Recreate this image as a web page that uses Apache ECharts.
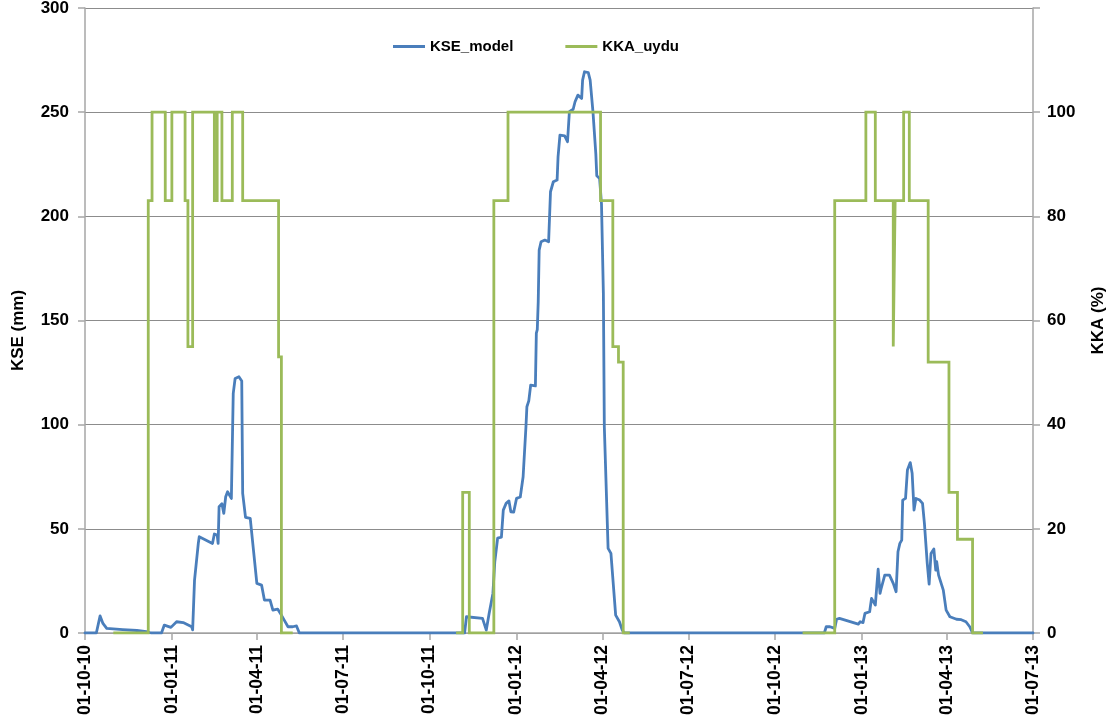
<!DOCTYPE html>
<html>
<head>
<meta charset="utf-8">
<script src="https://cdn.jsdelivr.net/npm/echarts@6/dist/echarts.min.js"></script>
<style>
html,body{margin:0;padding:0;background:#fff;}
#chart{width:1112px;height:719px;}
</style>
</head>
<body>
<div id="chart"></div>
<script>
// ---- Data ----
const xTickDates = ['2010-10-01','2011-01-01','2011-04-01','2011-07-01','2011-10-01','2012-01-01','2012-04-01','2012-07-01','2012-10-01','2013-01-01','2013-04-01','2013-07-01'];
const leftTicks = [0,50,100,150,200,250,300];
const rightTicks = [0,20,40,60,80,100];

const kseDates = [
'2010-10-01','2010-10-13','2010-10-17','2010-10-20','2010-10-24','2010-11-10','2010-11-25','2010-12-05','2010-12-10','2010-12-21','2010-12-24','2010-12-31',
'2011-01-06','2011-01-13','2011-01-22','2011-01-23','2011-01-25','2011-01-27','2011-01-29','2011-01-30','2011-02-13','2011-02-15','2011-02-18','2011-02-19','2011-02-20','2011-02-23','2011-02-25','2011-02-27',
'2011-03-01','2011-03-05','2011-03-07','2011-03-09','2011-03-13','2011-03-16','2011-03-17','2011-03-20','2011-03-25','2011-04-01','2011-04-06','2011-04-09','2011-04-15','2011-04-18','2011-04-23','2011-04-27','2011-04-30','2011-05-04','2011-05-09','2011-05-13','2011-05-16',
'2011-11-07','2011-11-09','2011-11-11','2011-11-26','2011-11-28','2011-11-30','2011-12-02','2011-12-03','2011-12-05','2011-12-07','2011-12-09','2011-12-11','2011-12-12','2011-12-16','2011-12-18','2011-12-21','2011-12-24','2011-12-26','2011-12-29',
'2012-01-01','2012-01-05','2012-01-08','2012-01-11','2012-01-12','2012-01-14','2012-01-16','2012-01-21','2012-01-22','2012-01-23','2012-01-24','2012-01-25','2012-01-27','2012-01-31','2012-02-04','2012-02-06','2012-02-09','2012-02-13','2012-02-14','2012-02-16','2012-02-21','2012-02-24','2012-02-26',
'2012-03-01','2012-03-03','2012-03-06','2012-03-10','2012-03-11','2012-03-13','2012-03-17','2012-03-19','2012-03-22','2012-03-25','2012-03-26','2012-03-29','2012-03-31','2012-04-02','2012-04-03','2012-04-07','2012-04-10','2012-04-15','2012-04-19','2012-04-22','2012-04-24',
'2012-11-22','2012-11-24','2012-11-28','2012-11-29','2012-12-03','2012-12-05','2012-12-08','2012-12-28','2012-12-30',
'2013-01-02','2013-01-04','2013-01-05','2013-01-09','2013-01-11','2013-01-13','2013-01-15','2013-01-18','2013-01-20','2013-01-21','2013-01-25','2013-01-30','2013-02-03','2013-02-06','2013-02-08','2013-02-10','2013-02-12','2013-02-13','2013-02-16','2013-02-18','2013-02-21','2013-02-23','2013-02-25','2013-02-27',
'2013-03-03','2013-03-06','2013-03-08','2013-03-11','2013-03-13','2013-03-15','2013-03-18','2013-03-20','2013-03-21','2013-03-23','2013-03-25','2013-03-28','2013-03-31','2013-04-04','2013-04-11','2013-04-16','2013-04-21','2013-04-25','2013-04-28','2013-07-01'
];
const kseValues = [
0,0,8.2,4.6,2.2,1.6,1.2,0.7,0,0,3.8,2.7,
5.4,5,3,1.5,25.4,26,43,46.2,43,47.5,47,43,60.6,62,57.4,65.4,
67.8,64.6,115,122.2,123,121,67,55.5,55,23.8,23,15.8,15.8,11,11.5,8.6,6.2,3,3,3.4,0,
0,7.8,8.6,7,6.8,1.4,0.5,9.4,14.2,19,34.2,35,45.5,46,59,62.2,63.4,58.2,58,
64.6,65.3,75,99,108.6,111.4,119,118.6,143.9,145.6,159,183.8,187.8,188.6,187.8,211.8,216.6,217.4,228.6,239,238.6,235.8,250.2,
251.4,255,258.2,256.6,265.4,269.4,269,265.4,250,230,219.5,218.2,206,163,99,40.6,38.2,8.6,5.4,1.4,0,
0,3,3,2.2,2.2,6.6,7,4.3,5.4,
5,9.4,10.2,10.2,16.6,17.4,13.4,30.6,19,21,27.8,27.8,23.8,19.8,39,43,44.6,63.8,64.6,78.2,81.8,76.7,59,64.6,
63.8,62.2,52.6,33.4,23.5,38.2,40.3,30.2,34.2,27.8,28,20.6,11,7.8,6.6,6.4,5.4,3,0,0
];

// each value holds from its date until the next date; null ends a season
const kkaDates = [
'2010-10-31','2010-12-07','2010-12-11','2010-12-25','2011-01-01','2011-01-15','2011-01-18','2011-01-23','2011-02-15','2011-02-18','2011-02-23','2011-03-06','2011-03-17','2011-04-24','2011-04-27','2011-05-09',
'2011-10-29','2011-11-05','2011-11-12','2011-12-08','2011-12-23','2012-03-30','2012-04-12','2012-04-18','2012-04-23','2012-04-30',
'2012-10-30','2012-12-03','2013-01-05','2013-01-15','2013-02-03','2013-02-05','2013-02-14','2013-02-20','2013-03-12','2013-04-03','2013-04-12','2013-04-28','2013-05-09'
];
const kkaValues = [
0,83,100,83,100,83,55,100,83,100,83,100,83,53,0,null,
0,27,0,83,100,83,55,52,0,null,
0,83,100,83,55,83,100,83,52,27,18,0,null
];

// ---- helpers ----
function ts(s){ const p=s.split('-').map(Number); return Date.UTC(p[0],p[1]-1,p[2]); }
function pad(n){ return (n<10?'0':'')+n; }
function fmt(v){ const d=new Date(v); return pad(d.getUTCDate())+'-'+pad(d.getUTCMonth()+1)+'-'+pad(d.getUTCFullYear()%100); }

const kseData = kseDates.map((d,i)=>[ts(d), kseValues[i]]);
const kkaData = kkaDates.map((d,i)=>[ts(d), kkaValues[i]]);
const xTicks = xTickDates.map(ts);

const FONT = 'Liberation Sans';
const chart = echarts.init(document.getElementById('chart'), null, {renderer:'canvas'});
chart.setOption({
  animation:false,
  backgroundColor:'#ffffff',
  textStyle:{fontFamily:FONT},
  grid:{left:85,right:79,top:8,bottom:86,containLabel:false,outerBoundsMode:'none'},
  legend:{
    left:393, top:39, padding:0,
    icon:'rect', itemWidth:32, itemHeight:3, itemGap:52,
    textStyle:{fontFamily:FONT,fontWeight:'bold',fontSize:15,color:'#000'},
    data:['KSE_model','KKA_uydu']
  },
  xAxis:{
    type:'value',
    min:xTicks[0], max:xTicks[xTicks.length-1],
    axisLine:{show:true,onZero:false,lineStyle:{color:'#a6a6a6',width:1.5}},
    axisTick:{show:true,length:7,inside:false,customValues:xTicks,lineStyle:{color:'#a6a6a6',width:1.5}},
    axisLabel:{show:true,rotate:90,margin:12,customValues:xTicks,formatter:fmt,
      fontFamily:FONT,fontWeight:'bold',fontSize:17.5,color:'#000'},
    splitLine:{show:false}
  },
  yAxis:[
    {
      type:'value', min:0, max:300, interval:50, position:'left',
      name:'KSE (mm)', nameLocation:'middle', nameRotate:90, nameGap:58,
      nameTextStyle:{fontFamily:FONT,fontWeight:'bold',fontSize:17,color:'#000',padding:[0,20,0,0]},
      axisLine:{show:true,lineStyle:{color:'#a6a6a6',width:1.5}},
      axisTick:{show:true,length:7,lineStyle:{color:'#a6a6a6',width:1.5}},
      axisLabel:{margin:16,fontFamily:FONT,fontWeight:'bold',fontSize:17,color:'#000'},
      splitLine:{show:true,lineStyle:{color:'#8c8c8c',width:1}}
    },
    {
      type:'value', min:0, max:120, interval:20, position:'right',
      name:'KKA (%)', nameLocation:'middle', nameRotate:90, nameGap:57,
      nameTextStyle:{fontFamily:FONT,fontWeight:'bold',fontSize:17,color:'#000'},
      axisLine:{show:true,lineStyle:{color:'#a6a6a6',width:1.5}},
      axisTick:{show:true,length:7,lineStyle:{color:'#a6a6a6',width:1.5}},
      axisLabel:{margin:14,fontFamily:FONT,fontWeight:'bold',fontSize:17,color:'#000',
        formatter:function(v){ return v===120 ? '' : String(v); }},
      splitLine:{show:false}
    }
  ],
  series:[
    {
      name:'KSE_model', type:'line', yAxisIndex:0, data:kseData,
      symbol:'none', showSymbol:false, smooth:false, z:2,
      itemStyle:{color:'#4a7ebb'},
      lineStyle:{color:'#4a7ebb',width:2.8,join:'round',cap:'round'}
    },
    {
      name:'KKA_uydu', type:'line', yAxisIndex:1, data:kkaData,
      symbol:'none', showSymbol:false, step:'end', connectNulls:false, z:3,
      itemStyle:{color:'#9bbb59'},
      lineStyle:{color:'#9bbb59',width:2.8,join:'miter'}
    }
  ]
});
</script>
</body>
</html>
